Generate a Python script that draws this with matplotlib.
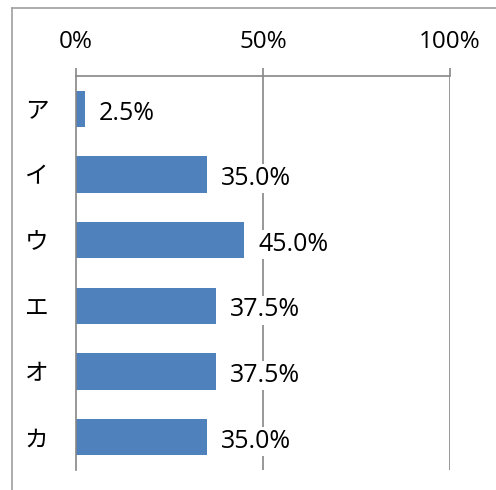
import matplotlib
matplotlib.use("Agg")
import matplotlib.pyplot as plt
from matplotlib.lines import Line2D

plt.rcParams['font.family'] = ['Open Sans', 'Noto Sans CJK JP', 'DejaVu Sans']

categories = ['ア', 'イ', 'ウ', 'エ', 'オ', 'カ']
values = [2.5, 35.0, 45.0, 37.5, 37.5, 35.0]
xticks = [0, 50, 100]
xticklabels = ['0%', '50%', '100%']

grey = '#868686'

fig = plt.figure(figsize=(4.96, 4.90), dpi=100)
ax = fig.add_axes([76 / 496, 1 - 470 / 490, (450 - 76) / 496, (470 - 76) / 490])

y = list(range(len(categories)))
bars = ax.barh(y, values, height=0.55, color='#4F81BD', zorder=2)

for yi, v in zip(y, values):
    ax.annotate(f'{v:.1f}%', xy=(v, yi), xytext=(10, -3), textcoords='offset points',
                va='center', ha='left', fontsize=18,
                bbox=dict(facecolor='white', edgecolor='none', pad=1.5), zorder=3)

ax.set_xlim(0, 100)
ax.set_ylim(len(categories) - 0.5, -0.5)
ax.set_yticks(y)
ax.set_yticklabels(categories, family=['Noto Sans CJK JP'], fontsize=17)
ax.set_xticks(xticks)
ax.set_xticklabels(xticklabels, fontsize=17.5)
ax.xaxis.tick_top()
ax.tick_params(axis='x', direction='out', length=6, width=1.2, color=grey, pad=10)
ax.tick_params(axis='y', length=0, pad=20)

for x in xticks[1:]:
    ax.axvline(x, color=grey, lw=1.2, zorder=1)

for s in ['right', 'bottom']:
    ax.spines[s].set_visible(False)
for s in ['top', 'left']:
    ax.spines[s].set_color(grey)
    ax.spines[s].set_linewidth(1.2)

# chart area border (only top and left visible)
fig.add_artist(Line2D([12 / 496, 1], [1 - 8 / 490, 1 - 8 / 490], color='#A0A0A0', lw=1.2,
                      transform=fig.transFigure))
fig.add_artist(Line2D([12 / 496, 12 / 496], [0, 1 - 8 / 490], color='#A0A0A0', lw=1.2,
                      transform=fig.transFigure))

fig.savefig('out.png', dpi=100)
